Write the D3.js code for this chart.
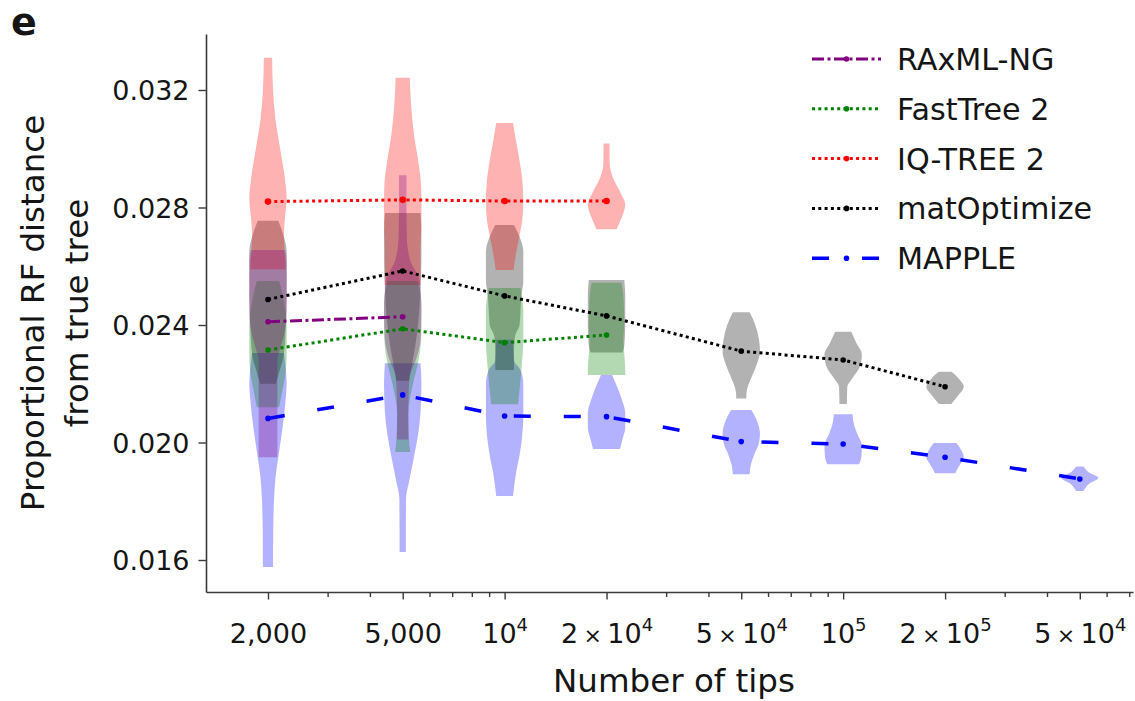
<!DOCTYPE html>
<html><head><meta charset="utf-8">
<script src="https://cdn.jsdelivr.net/npm/d3@7"></script>
<style>
body{margin:0;background:#fff}
svg{display:block}
text{font-family:"DejaVu Sans",sans-serif;fill:#151515}
</style>
</head><body>
<svg id="chart" width="1135" height="701"></svg>
<script>
// ---------------- data ----------------
const tips = [2000, 5000, 10000, 20000, 50000, 100000, 200000, 500000];
const tickMantissa = ["2,000", "5,000", "", "2", "5", "", "2", "5"];
const tickExponent = [null, null, 4, 4, 4, 5, 5, 4];
const yTicks = [0.016, 0.020, 0.024, 0.028, 0.032];

const methods = ["RAxML-NG", "FastTree 2", "IQ-TREE 2", "matOptimize", "MAPPLE"];
const colors = ["#800080", "#008000", "#ff0000", "#000000", "#0000ff"];

// mean proportional RF distance per number of tips (null = not run)
const raxmlMeans     = [0.02411, 0.02428, null, null, null, null, null, null];
const fasttreeMeans  = [0.02315, 0.02387, 0.02340, 0.02366, null, null, null, null];
const iqtreeMeans    = [0.02820, 0.02826, 0.02822, 0.02822, null, null, null, null];
const matoptMeans    = [0.02487, 0.02584, 0.02499, 0.02431, 0.02311, 0.02281, 0.02190, null];
const mappleMeans    = [0.02082, 0.02162, 0.02090, 0.02088, 0.02003, 0.01995, 0.01950, 0.01876];

// violin density profiles: [value, relative half-width] (null = no violin)
const raxmlViolins = [
  [[0.02655,.9],[0.0262,1.0],[0.0255,1.0],[0.0245,1.0],[0.0238,.9],[0.0232,.65],[0.0228,.5],[0.0215,.5],[0.0205,.5],[0.0195,.5]],
  [[0.0291,.2],[0.0280,.2],[0.0270,.22],[0.0262,.4],[0.0255,.9],[0.0245,1.0],[0.0235,.95],[0.0228,.7],[0.0222,.35],[0.0210,.3],[0.0201,.3]],
  null, null, null, null, null, null
];
const fasttreeViolins = [
  [[0.0255,.6],[0.0248,.85],[0.0240,1.0],[0.0230,1.0],[0.0222,.9],[0.0217,.75],[0.0212,.6]],
  [[0.0255,.8],[0.0248,1.0],[0.0238,1.0],[0.0228,.85],[0.0220,.55],[0.0210,.3],[0.0200,.35],[0.01968,.4]],
  [[0.02526,.85],[0.0245,1.0],[0.0235,1.0],[0.0225,.9],[0.0218,.8],[0.0213,.72]],
  [[0.02544,.8],[0.0250,.9],[0.0240,.95],[0.0235,.9],[0.0230,.95],[0.0225,1.0],[0.0223,1.0]],
  null, null, null, null
];
const iqtreeViolins = [
  [[0.0331,.22],[0.0320,.27],[0.0310,.4],[0.0300,.65],[0.0290,.9],[0.0283,1.0],[0.0276,.9],[0.0270,.85],[0.0264,.9],[0.0259,.95]],
  [[0.03242,.38],[0.0315,.45],[0.0305,.6],[0.0295,.85],[0.0288,.98],[0.0282,1.0],[0.0275,1.0],[0.0265,.95],[0.02536,.95]],
  [[0.03088,.45],[0.0303,.6],[0.0296,.8],[0.0289,.95],[0.0282,1.0],[0.0276,.95],[0.0269,.75],[0.0262,.55],[0.02587,.48]],
  [[0.03018,.16],[0.0295,.17],[0.0290,.35],[0.0285,.75],[0.0281,1.0],[0.0278,.9],[0.0275,.7],[0.02726,.54]],
  null, null, null, null
];
const matoptViolins = [
  [[0.02755,.55],[0.0270,.85],[0.0265,1.0],[0.0250,1.0],[0.0240,.95],[0.0230,.85],[0.0224,.6],[0.0220,.42]],
  [[0.02781,.95],[0.0272,1.0],[0.0262,1.0],[0.0252,.95],[0.0242,.85],[0.0232,.65],[0.0225,.45],[0.0221,.35]],
  [[0.0274,.5],[0.0270,.8],[0.0265,1.0],[0.0255,1.0],[0.0250,.9],[0.0245,.85],[0.0240,.8],[0.0236,.55],[0.0230,.5],[0.02247,.5]],
  [[0.02553,.95],[0.0250,1.0],[0.0240,1.0],[0.0233,.95],[0.02306,.85]],
  [[0.02443,.45],[0.0240,.75],[0.0235,.95],[0.0231,1.0],[0.0227,.85],[0.0223,.6],[0.0219,.35],[0.0217,.28],[0.0215,.27]],
  [[0.02377,.43],[0.0234,.7],[0.0230,1.0],[0.0226,.9],[0.0222,.5],[0.0219,.22],[0.02131,.2]],
  [[0.02241,.35],[0.0222,.7],[0.0219,1.0],[0.0216,.7],[0.02131,.33]],
  null
];
const mappleViolins = [
  [[0.02305,.85],[0.0225,.95],[0.0220,1.0],[0.0215,.95],[0.0205,.78],[0.0195,.55],[0.0188,.4],[0.0180,.32],[0.0170,.28],[0.01576,.27]],
  [[0.0227,.95],[0.0220,1.0],[0.0210,.95],[0.0204,.85],[0.0195,.6],[0.0187,.35],[0.0181,.18],[0.0170,.17],[0.01627,.17]],
  [[0.0235,.45],[0.0228,.5],[0.02247,.85],[0.0220,1.0],[0.0210,1.0],[0.0200,.9],[0.0195,.78],[0.0190,.62],[0.01818,.45]],
  [[0.0223,.3],[0.0220,.5],[0.0215,.8],[0.0210,1.0],[0.0205,1.0],[0.0201,.85],[0.01978,.72]],
  [[0.02111,.54],[0.0208,.8],[0.0203,1.0],[0.0200,.95],[0.0196,.7],[0.0192,.5],[0.01892,.45]],
  [[0.02096,.5],[0.0207,.55],[0.0203,.75],[0.0199,1.0],[0.0195,.97],[0.01926,.85]],
  [[0.01998,.6],[0.0197,.9],[0.0195,1.0],[0.0193,.85],[0.0191,.65],[0.01895,.55]],
  [[0.01918,.2],[0.0190,.45],[0.0188,1.0],[0.0186,.5],[0.01835,.2]]
];

const allMeans = [raxmlMeans, fasttreeMeans, iqtreeMeans, matoptMeans, mappleMeans];
const allViolins = [raxmlViolins, fasttreeViolins, iqtreeViolins, matoptViolins, mappleViolins];
const dashes = ["12,3.5,3,3.5", "3,3.3", "3,3.3", "3,3.3", "17,33"];
const widthsLine = [3, 3, 3, 3, 3.5];

// ---------------- chart ----------------
const svg = d3.select("#chart");
const x = d3.scaleLog().domain([1312, 718000]).range([206, 1133]);
const y = d3.scaleLinear().domain([0.014911, 0.033906]).range([592, 34]);
const w = d3.scaleLinear().domain([0, 1]).range([0, 18.7]);

// violins (drawn in reverse legend order)
const area = d3.area()
  .y(d => y(d[0]))
  .curve(d3.curveMonotoneY);
const gV = svg.append("g");
for (let m = methods.length - 1; m >= 0; m--) {
  allViolins[m].forEach((prof, i) => {
    if (!prof) return;
    const cx = x(tips[i]);
    gV.append("path")
      .datum(prof)
      .attr("d", area.x0(d => cx - w(d[1])).x1(d => cx + w(d[1])))
      .attr("fill", colors[m])
      .attr("fill-opacity", 0.3);
  });
}

// axes
const spine = "#3a3a3a";
const gx = svg.append("g").attr("transform", "translate(0,592)");
const minor = [];
for (let e = 3; e <= 5; e++) for (let k = 1; k <= 9; k++) {
  const v = k * Math.pow(10, e);
  if (v > 1312 && v < 718000 && !tips.includes(v)) minor.push(v);
}
gx.append("g").call(d3.axisBottom(x).tickValues(minor).tickSize(5).tickSizeOuter(0).tickFormat(""))
  .call(g => g.select(".domain").remove());
const gxMajor = gx.append("g").call(d3.axisBottom(x).tickValues(tips).tickSize(7.5).tickSizeOuter(0).tickFormat(""));
gx.selectAll("line").attr("stroke", spine).attr("stroke-width", 1.4);
gx.selectAll(".domain").attr("stroke", spine).attr("stroke-width", 1.6);
gxMajor.selectAll(".tick text").each(function(d, i) {
  const t = d3.select(this).attr("y", 51).attr("dy", null)
    .attr("font-size", 27).attr("fill", "#151515").attr("font-family", '"DejaVu Sans",sans-serif');
  const e = tickExponent[i];
  if (e === null) { t.text(tickMantissa[i]); return; }
  if (tickMantissa[i] === "") {
    t.append("tspan").text("10");
  } else {
    t.append("tspan").text(tickMantissa[i] + "\u2009");
    t.append("tspan").attr("font-size", 22).text("\u00d7");
    t.append("tspan").text("\u200910");
  }
  t.append("tspan").attr("font-size", 18).attr("dy", -12).text(e);
});

const gy = svg.append("g").attr("transform", "translate(206,0)")
  .call(d3.axisLeft(y).tickValues(yTicks).tickFormat(d3.format(".3f")).tickSize(7.5).tickSizeOuter(0).tickPadding(9));
gy.selectAll("line").attr("stroke", spine).attr("stroke-width", 1.4);
gy.select(".domain").attr("stroke", spine).attr("stroke-width", 1.6);
gy.selectAll(".tick text").attr("font-size", 27).attr("fill", "#151515")
  .attr("font-family", '"DejaVu Sans",sans-serif').attr("dy", "0.36em");

// mean lines
const line = d3.line().defined(d => d[1] !== null).x(d => x(d[0])).y(d => y(d[1]));
const gL = svg.append("g");
methods.forEach((name, m) => {
  const pts = tips.map((t, i) => [t, allMeans[m][i]]).filter(d => d[1] !== null);
  gL.append("path").datum(pts).attr("d", line)
    .attr("fill", "none").attr("stroke", colors[m]).attr("stroke-width", widthsLine[m])
    .attr("stroke-dasharray", dashes[m]);
  gL.selectAll(null).data(pts).enter().append("circle")
    .attr("cx", d => x(d[0])).attr("cy", d => y(d[1])).attr("r", m === 2 ? 3.3 : 2.8)
    .attr("fill", colors[m]);
});

// legend
const gLeg = svg.append("g");
methods.forEach((name, m) => {
  const ly = 59 + m * 49.8;
  gLeg.append("line").attr("x1", 812).attr("x2", 881).attr("y1", ly).attr("y2", ly)
    .attr("stroke", colors[m]).attr("stroke-width", widthsLine[m]).attr("stroke-dasharray", dashes[m]);
  gLeg.append("circle").attr("cx", 846.5).attr("cy", ly).attr("r", 2.8).attr("fill", colors[m]);
  gLeg.append("text").attr("x", 897).attr("y", ly + 11).attr("font-size", 30.2).text(name);
});

// axis titles
svg.append("text").attr("x", 674).attr("y", 692).attr("text-anchor", "middle")
  .attr("font-size", 32.5).text("Number of tips");
svg.append("text").attr("transform", "translate(44,313) rotate(-90)").attr("text-anchor", "middle")
  .attr("font-size", 32.5).text("Proportional RF distance");
svg.append("text").attr("transform", "translate(88,313) rotate(-90)").attr("text-anchor", "middle")
  .attr("font-size", 32.5).text("from true tree");

// panel letter
svg.append("text").attr("x", 11).attr("y", 35).attr("font-size", 38).attr("font-weight", "bold").text("e");
</script>
</body></html>
